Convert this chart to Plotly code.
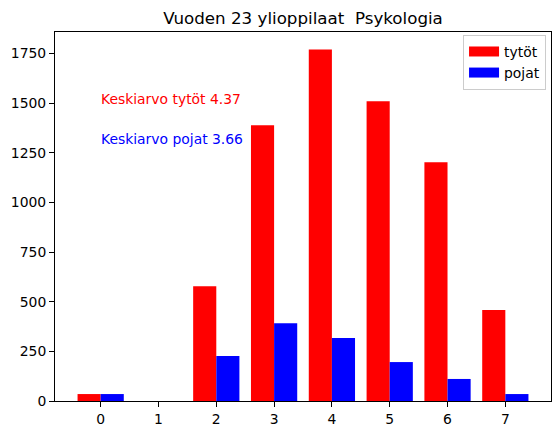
import plotly.graph_objects as go

grades = [0, 1, 2, 3, 4, 5, 6, 7]
tytot = [35, 0, 578, 1388, 1770, 1509, 1202, 458]
pojat = [35, 0, 226, 392, 317, 196, 111, 35]
mean_tytot = 4.37
mean_pojat = 3.66
title_text = "Vuoden 23 ylioppilaat  Psykologia"
yticks = [0, 250, 500, 750, 1000, 1250, 1500, 1750]

RED = "#ff0000"
BLUE = "#0000ff"
FONT = "DejaVu Sans"
FS = 13.9

W, H = 552, 427  # page body has an 8px margin in the 560x435 window

fig = go.Figure()
fig.add_trace(go.Bar(x=grades, y=tytot, marker=dict(color=RED, line=dict(width=0)),
                     showlegend=False, name="tytöt"))
fig.add_trace(go.Bar(x=grades, y=pojat, marker=dict(color=BLUE, line=dict(width=0)),
                     showlegend=False, name="pojat"))
# legend proxies (wide patches like matplotlib)
fig.add_trace(go.Scatter(x=[None], y=[None], mode="lines", name="tytöt",
                         line=dict(color=RED, width=10)))
fig.add_trace(go.Scatter(x=[None], y=[None], mode="lines", name="pojat",
                         line=dict(color=BLUE, width=10)))

fig.add_annotation(x=0, y=1500, text=f"Keskiarvo tytöt {mean_tytot}", showarrow=False,
                   xanchor="left", yanchor="bottom", xshift=-2, yshift=-6,
                   font=dict(color=RED, size=FS, family=FONT))
fig.add_annotation(x=0, y=1300, text=f"Keskiarvo pojat {mean_pojat}", showarrow=False,
                   xanchor="left", yanchor="bottom", xshift=-2, yshift=-6,
                   font=dict(color=BLUE, size=FS, family=FONT))

fig.update_layout(
    width=W, height=H,
    margin=dict(l=47, r=9, t=24, b=34),
    paper_bgcolor="white", plot_bgcolor="white",
    barmode="group", bargap=0.2, bargroupgap=0,
    font=dict(family=FONT, size=FS, color="black"),
    title=dict(text=title_text, x=295 / W, xanchor="center",
               y=1 - 10.5 / H, yanchor="middle", font=dict(size=16.7, color="black")),
    legend=dict(x=0.99, y=0.992, xanchor="right", yanchor="top",
                bgcolor="white", bordercolor="#cccccc", borderwidth=1,
                font=dict(size=FS), itemwidth=30, tracegroupgap=0),
    xaxis=dict(range=[-0.79, 7.79], tickmode="array", tickvals=grades,
               ticktext=[str(g) for g in grades], showgrid=False, zeroline=False,
               showline=True, linecolor="black", linewidth=1, mirror=True,
               ticks="outside", ticklen=5, tickcolor="black", automargin=False),
    yaxis=dict(range=[0, 1858], tickmode="array", tickvals=yticks,
               ticktext=[str(v) for v in yticks], showgrid=False, zeroline=False,
               showline=True, linecolor="black", linewidth=1, mirror=True,
               ticks="outside", ticklen=5, tickcolor="black", automargin=False),
)

fig.write_html("out.html")
